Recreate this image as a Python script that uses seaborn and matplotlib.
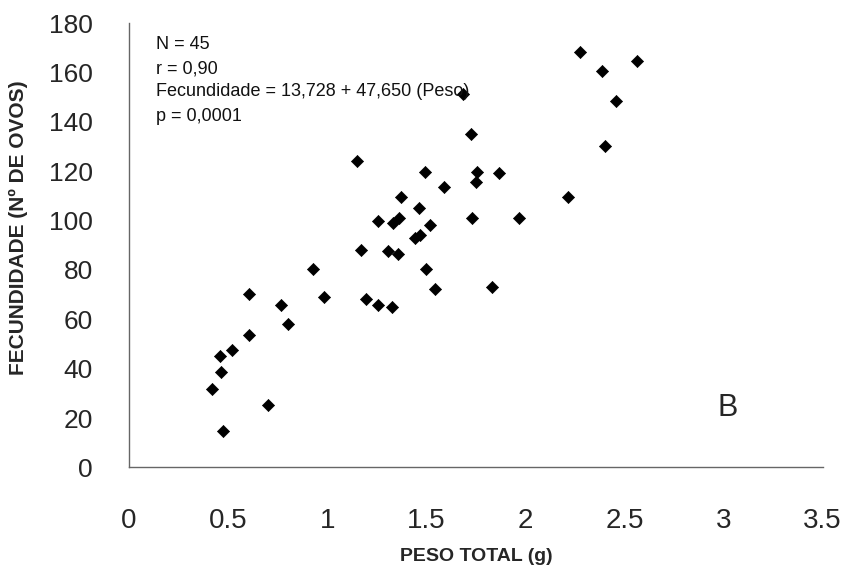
import matplotlib
matplotlib.use("Agg")
import matplotlib.pyplot as plt
import seaborn as sns
import pandas as pd

peso = [0.476, 0.420, 0.462, 0.460, 0.518, 0.604, 0.607, 0.701, 0.768, 0.803,
        0.929, 0.985, 1.148, 1.173, 1.194, 1.256, 1.257, 1.305, 1.328, 1.333,
        1.355, 1.362, 1.372, 1.442, 1.464, 1.467, 1.493, 1.496, 1.519, 1.545,
        1.588, 1.686, 1.728, 1.731, 1.751, 1.758, 1.832, 1.869, 1.970, 2.215,
        2.274, 2.384, 2.404, 2.457, 2.565]
fecundidade = [14.9, 31.8, 38.8, 45.2, 47.6, 53.7, 70.3, 25.3, 65.9, 58.2,
               80.2, 69.2, 124.2, 88.0, 68.2, 100.0, 65.8, 87.5, 64.8, 99.2,
               86.3, 101.0, 109.5, 92.9, 105.1, 94.3, 119.5, 80.2, 98.4, 72.2,
               113.4, 151.4, 135.2, 101.1, 115.7, 119.5, 73.0, 119.3, 101.1, 109.5,
               168.3, 160.4, 130.3, 148.6, 164.5]

x_ticks = [0, 0.5, 1, 1.5, 2, 2.5, 3, 3.5]
x_tick_labels = ["0", "0.5", "1", "1.5", "2", "2.5", "3", "3.5"]
y_ticks = [0, 20, 40, 60, 80, 100, 120, 140, 160, 180]

annotation = ["N = 45", "r = 0,90", "Fecundidade = 13,728 + 47,650 (Peso)", "p = 0,0001"]
annotation_y = [171.3, 161.5, 152.2, 142.0]

sns.set_style("white")
plt.rcParams["font.family"] = ["Liberation Sans", "DejaVu Sans"]

df = pd.DataFrame({"peso": peso, "fec": fecundidade})

fig = plt.figure(figsize=(8.47, 5.71), dpi=100)
ax = fig.add_axes([0.1523, 0.1813, 0.9713 - 0.1523, 0.9597 - 0.1813])

sns.scatterplot(data=df, x="peso", y="fec", marker="D", s=38, color="black",
                edgecolor="black", linewidth=0.5, ax=ax, zorder=3)

ax.set_xlim(0, 3.5)
ax.set_ylim(0, 180)
ax.set_xticks(x_ticks)
ax.set_xticklabels(x_tick_labels)
ax.set_yticks(y_ticks)

for s in ["top", "right"]:
    ax.spines[s].set_visible(False)
for s in ["left", "bottom"]:
    ax.spines[s].set_color("#666666")
    ax.spines[s].set_linewidth(1.0)

ax.tick_params(axis="x", direction="out", length=6, width=1, color="#666666",
               labelsize=20, pad=23)
ax.tick_params(axis="y", direction="out", length=6, width=1, color="#666666",
               labelsize=19, pad=20)

ax.set_xlabel("PESO TOTAL (g)", fontsize=14, fontweight="bold", labelpad=10)
ax.set_ylabel("FECUNDIDADE (Nº DE OVOS)", fontsize=15, fontweight="bold")
ax.yaxis.set_label_coords(-0.146, 0.54)

for line, yv in zip(annotation, annotation_y):
    ax.text(0.136, yv, line, fontsize=13, va="center", ha="left", color="#111111")

ax.text(3.02, 24, "B", fontsize=22, ha="center", va="center")

fig.savefig("out.png", dpi=100)
